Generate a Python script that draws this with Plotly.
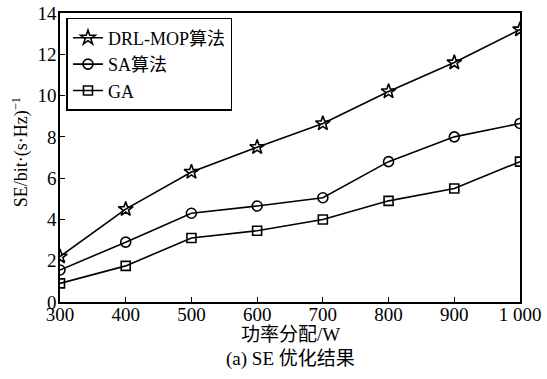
import plotly.graph_objects as go

# Transmit power budget (W) and spectral efficiency of each method
power = [300, 400, 500, 600, 700, 800, 900, 1000]
power_labels = ["300", "400", "500", "600", "700", "800", "900", "1 000"]
se_drl_mop = [2.2, 4.5, 6.3, 7.5, 8.65, 10.2, 11.6, 13.2]
se_sa = [1.55, 2.9, 4.3, 4.65, 5.05, 6.8, 8.0, 8.65]
se_ga = [0.9, 1.75, 3.1, 3.45, 4.0, 4.9, 5.5, 6.8]

FONT = "Liberation Serif, Times New Roman, Noto Sans CJK SC, serif"

series = [
    ("DRL-MOP算法", se_drl_mop, "star-open", 11),
    ("SA算法", se_sa, "circle-open", 10),
    ("GA", se_ga, "square-open", 9),
]

fig = go.Figure()
for name, values, symbol, size in series:
    fig.add_trace(go.Scatter(
        x=power, y=values, name=name, mode="lines+markers",
        line=dict(color="black", width=1.6),
        marker=dict(symbol=symbol, size=size, color="black",
                    line=dict(color="black", width=1.6)),
    ))

axis_common = dict(
    showgrid=False, zeroline=False, showline=True, linecolor="black",
    linewidth=1.5, mirror=True, ticks="inside", ticklen=5, tickwidth=1.2,
    tickcolor="black", tickfont=dict(family=FONT, size=19, color="black"),
)

fig.update_xaxes(range=[300, 1000], tickvals=power, ticktext=power_labels,
                 ticklabelstandoff=-6, **axis_common)
fig.update_yaxes(range=[0, 14], dtick=2, ticklabelstandoff=-2, **axis_common)

L, R, T, B = 59.5, 26.5, 13, 76.5
W, H = 547, 379
plot_w, plot_h = W - L - R, H - T - B


def px_x(px):
    return (px - L) / plot_w


def px_y(py):
    return (H - B - py) / plot_h


fig.update_layout(
    width=W, height=H,
    margin=dict(l=L, r=R, t=T, b=B, autoexpand=False),
    paper_bgcolor="white", plot_bgcolor="white",
    font=dict(family=FONT, size=19, color="black"),
    showlegend=True,
    legend=dict(
        x=px_x(66), y=px_y(18), xanchor="left", yanchor="top",
        bgcolor="white", bordercolor="black", borderwidth=1.5,
        font=dict(family=FONT, size=18, color="black"),
        tracegroupgap=0, itemwidth=30,
    ),
    annotations=[
        dict(text="功率分配/W", x=0.5, y=px_y(335), xref="paper", yref="paper",
             xanchor="center", yanchor="middle", showarrow=False,
             font=dict(family=FONT, size=19, color="black")),
        dict(text="(a) SE 优化结果", x=0.5, y=px_y(360), xref="paper",
             yref="paper", xanchor="center", yanchor="middle",
             showarrow=False, font=dict(family=FONT, size=19, color="black")),
        dict(text="SE/bit·(s·Hz)<sup>−1</sup>", x=px_x(20), y=px_y(153),
             xref="paper", yref="paper", xanchor="center", yanchor="middle",
             showarrow=False, textangle=-90,
             font=dict(family=FONT, size=18, color="black")),
    ],
)

fig.write_html("out.html")
